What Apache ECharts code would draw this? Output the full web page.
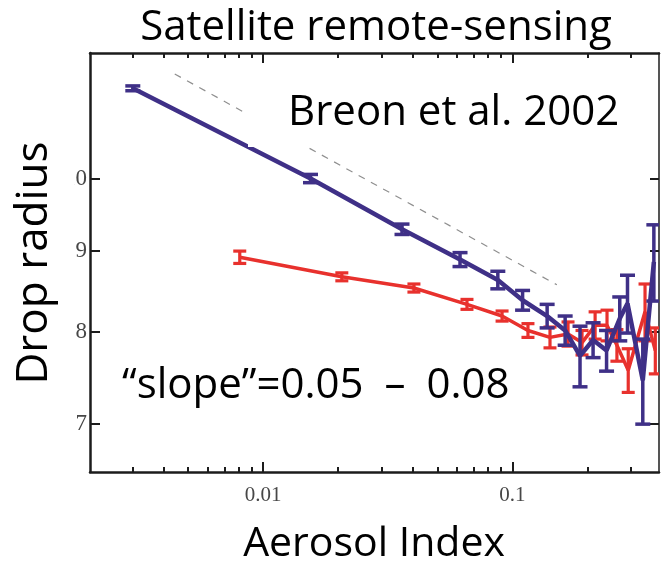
<!DOCTYPE html>
<html>
<head>
<meta charset="utf-8">
<title>Drop radius vs Aerosol Index</title>
<script src="https://cdn.jsdelivr.net/npm/echarts@6/dist/echarts.min.js"></script>
<style>
  html, body { margin: 0; padding: 0; background: #ffffff; }
  #chart { width: 663px; height: 562px; }
</style>
</head>
<body>
<div id="chart"></div>
<script>
// Aerosol index (x) for each binned mean
const blueX = [0.003, 0.0155, 0.0361, 0.0617, 0.0875, 0.110, 0.138, 0.163, 0.187, 0.211, 0.239, 0.27, 0.29, 0.334, 0.37];
// Mean drop radius and half-width of the error bar
const blueY = [11.40, 10.00, 9.29, 8.89, 8.63, 8.38, 8.19, 8.02, 7.73, 7.91, 7.79, 8.16, 8.34, 7.46, 8.86];
const blueErr = [0.04, 0.06, 0.07, 0.09, 0.11, 0.12, 0.14, 0.17, 0.34, 0.20, 0.23, 0.26, 0.35, 0.46, 0.49];

const redX = [0.00806, 0.0207, 0.0403, 0.0658, 0.091, 0.1156, 0.1417, 0.1674, 0.1905, 0.215, 0.240, 0.263, 0.292, 0.341, 0.375];
const redY = [8.92, 8.67, 8.53, 8.33, 8.19, 8.02, 7.94, 7.98, 7.88, 8.08, 8.08, 7.85, 7.57, 8.24, 7.79];
const redErr = [0.08, 0.05, 0.05, 0.06, 0.06, 0.08, 0.12, 0.14, 0.14, 0.16, 0.18, 0.18, 0.24, 0.34, 0.26];

// Reference slope guide (dashed)
const guideX = [0.00442, 0.151];
const guideY = [11.64, 8.57];

// Tick positions
const xMajorTicks = [0.01, 0.1];
const xMinorTicks = [0.003, 0.004, 0.005, 0.006, 0.007, 0.008, 0.009,
                     0.02, 0.03, 0.04, 0.05, 0.06, 0.07, 0.08, 0.09, 0.2, 0.3];
const yTicks = [7, 8, 9, 10];

const BLUE = '#3f3087';
const RED = '#e8312d';
const FRAME = '#1c1c1c';
const SANS = '"Open Sans", "Noto Sans", sans-serif';
const SERIF = '"Liberation Serif", "DejaVu Serif", serif';

function pairs(xs, ys) { return xs.map((x, i) => [x, ys[i]]); }
function errRows(xs, ys, es) { return xs.map((x, i) => [x, ys[i] - es[i], ys[i] + es[i]]); }

function errorBarRenderer(color, capHalf, width) {
  return function (params, api) {
    const x = api.value(0);
    const top = api.coord([x, api.value(2)]);
    const bot = api.coord([x, api.value(1)]);
    const style = { stroke: color, lineWidth: width, lineCap: 'butt' };
    return {
      type: 'group',
      children: [
        { type: 'line', shape: { x1: top[0], y1: top[1], x2: bot[0], y2: bot[1] }, style },
        { type: 'line', shape: { x1: top[0] - capHalf, y1: top[1], x2: top[0] + capHalf, y2: top[1] }, style },
        { type: 'line', shape: { x1: bot[0] - capHalf, y1: bot[1], x2: bot[0] + capHalf, y2: bot[1] }, style }
      ]
    };
  };
}

const xRange = { min: 0.00202, max: 0.388, logBase: 10 };
const yRange = { min: 6.53, max: 12, logBase: 10 };

function xAxisDef(position, showLine, ticks, len, showLabels) {
  return Object.assign({
    type: 'log',
    position: position,
    axisLine: { show: showLine, onZero: false, lineStyle: { color: FRAME, width: 2.5 } },
    axisTick: { show: true, inside: true, length: len, customValues: ticks, lineStyle: { color: FRAME, width: 2 } },
    axisLabel: showLabels ? {
      show: true, customValues: ticks, margin: 13,
      fontFamily: SERIF, fontSize: 21, color: '#474747',
      formatter: v => String(v)
    } : { show: false },
    splitLine: { show: false },
    minorTick: { show: false }
  }, xRange);
}

const chart = echarts.init(document.getElementById('chart'), null, { renderer: 'canvas' });

chart.setOption({
  backgroundColor: '#ffffff',
  animation: false,
  grid: { left: 90, right: 4, top: 53, bottom: 90, containLabel: false },
  xAxis: [
    xAxisDef('bottom', true, xMajorTicks, 10, true),
    xAxisDef('bottom', false, xMinorTicks, 5, false),
    xAxisDef('top', true, xMajorTicks, 10, false),
    xAxisDef('top', false, xMinorTicks, 5, false)
  ],
  yAxis: [
    Object.assign({
      type: 'log',
      position: 'left',
      axisLine: { show: true, onZero: false, lineStyle: { color: FRAME, width: 2.5 } },
      axisTick: { show: true, inside: true, length: 10, customValues: yTicks, lineStyle: { color: FRAME, width: 2 } },
      axisLabel: {
        show: true, customValues: yTicks, margin: 3,
        fontFamily: SERIF, fontSize: 23, color: '#474747',
        formatter: v => String(v)
      },
      splitLine: { show: false }
    }, yRange),
    Object.assign({
      type: 'log',
      position: 'right',
      axisLine: { show: true, onZero: false, lineStyle: { color: FRAME, width: 1.5 } },
      axisTick: { show: true, inside: true, length: 9, customValues: yTicks, lineStyle: { color: FRAME, width: 2 } },
      axisLabel: { show: false },
      splitLine: { show: false }
    }, yRange)
  ],
  series: [
    {
      name: 'guide', type: 'line', data: pairs(guideX, guideY),
      showSymbol: false, silent: true,
      lineStyle: { color: '#8f8f8f', width: 1.2, type: [7, 7] }, z: 1
    },
    {
      name: 'red', type: 'line', data: pairs(redX, redY),
      showSymbol: false, lineStyle: { color: RED, width: 3.5 }, z: 2
    },
    {
      name: 'red-err', type: 'custom', data: errRows(redX, redY, redErr),
      renderItem: errorBarRenderer(RED, 6.5, 3.2), clip: true, z: 3
    },
    {
      name: 'blue', type: 'line', data: pairs(blueX, blueY),
      showSymbol: false, lineStyle: { color: BLUE, width: 4.5 }, z: 4
    },
    {
      name: 'blue-err', type: 'custom', data: errRows(blueX, blueY, blueErr),
      renderItem: errorBarRenderer(BLUE, 7.5, 3.5), clip: true, z: 5
    }
  ],
  graphic: [
    // text-box backgrounds
    { type: 'rect', z: 100, shape: { x: 248, y: 80, width: 390, height: 67 }, style: { fill: '#ffffff' } },
    { type: 'rect', z: 100, shape: { x: 0, y: 130, width: 74, height: 270 }, style: { fill: '#ffffff' } },
    {
      type: 'text', z: 101, x: 376, y: 28,
      style: { text: 'Satellite remote-sensing', font: '42px ' + SANS, fill: '#000', textAlign: 'center', textVerticalAlign: 'middle' }
    },
    {
      type: 'text', z: 101, x: 288, y: 113,
      style: { text: 'Breon et al. 2002', font: '42px ' + SANS, fill: '#000', textAlign: 'left', textVerticalAlign: 'middle' }
    },
    {
      type: 'text', z: 101, x: 122, y: 386,
      style: { text: '\u201Cslope\u201D=0.05\u2002\u2013\u20020.08', font: '42px ' + SANS, fill: '#000', textAlign: 'left', textVerticalAlign: 'middle' }
    },
    {
      type: 'text', z: 101, x: 374, y: 544,
      style: { text: 'Aerosol Index', font: '41px ' + SANS, fill: '#000', textAlign: 'center', textVerticalAlign: 'middle' }
    },
    {
      type: 'text', z: 101, x: 34, y: 263, rotation: Math.PI / 2,
      style: { text: 'Drop radius', font: '44px ' + SANS, fill: '#000', textAlign: 'center', textVerticalAlign: 'middle' }
    }
  ]
});
</script>
</body>
</html>
